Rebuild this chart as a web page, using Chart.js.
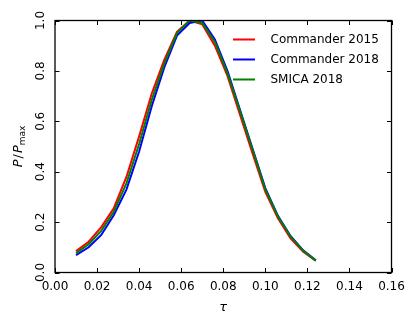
<!DOCTYPE html>
<html>
<head>
<meta charset="utf-8">
<script src="https://cdn.jsdelivr.net/npm/chart.js@4/dist/chart.umd.min.js"></script>
<style>
  html, body { margin: 0; padding: 0; background: #fff; }
  #wrap { width: 415px; height: 326px; }
</style>
</head>
<body>
<div id="wrap"><canvas id="c" width="415" height="326"></canvas></div>
<script>
// tau grid and normalised posteriors
const tau = [0.010, 0.016, 0.022, 0.028, 0.034, 0.040, 0.046, 0.052, 0.058, 0.064,
             0.070, 0.076, 0.082, 0.088, 0.094, 0.100, 0.106, 0.112, 0.118, 0.124];
const commander2015 = [0.085, 0.122, 0.180, 0.256, 0.380, 0.540, 0.710, 0.845, 0.955, 1.000,
                       0.985, 0.900, 0.780, 0.625, 0.470, 0.320, 0.215, 0.135, 0.082, 0.047];
const commander2018 = [0.069, 0.100, 0.149, 0.228, 0.330, 0.480, 0.660, 0.815, 0.940, 0.990,
                       1.000, 0.925, 0.800, 0.645, 0.490, 0.335, 0.225, 0.145, 0.088, 0.048];
const smica2018 = [0.077, 0.112, 0.165, 0.242, 0.355, 0.510, 0.685, 0.830, 0.950, 1.000,
                   0.990, 0.915, 0.790, 0.640, 0.485, 0.330, 0.222, 0.142, 0.086, 0.047];

const seriesNames = ["Commander 2015", "Commander 2018", "SMICA 2018"];
const seriesColors = ["#ff0000", "#0000ff", "#008000"];

const xTicks = [0, 0.02, 0.04, 0.06, 0.08, 0.10, 0.12, 0.14, 0.16];
const xTickLabels = ["0.00", "0.02", "0.04", "0.06", "0.08", "0.10", "0.12", "0.14", "0.16"];
const yTicks = [0, 0.2, 0.4, 0.6, 0.8, 1.0];
const yTickLabels = ["0.0", "0.2", "0.4", "0.6", "0.8", "1.0"];

const FONT = "DejaVu Sans";

function pts(ys) {
  return tau.map((t, i) => ({ x: t, y: ys[i] }));
}

// frame, inward ticks, labels, titles and legend (matplotlib classic look)
const axesDecor = {
  id: "axesDecor",
  afterDraw(chart) {
    const ctx = chart.ctx;
    const a = chart.chartArea;
    const xs = chart.scales.x;
    const ys = chart.scales.y;
    const tl = 4.5;

    ctx.save();
    ctx.strokeStyle = "#000";
    ctx.lineWidth = 1;
    ctx.beginPath();
    xTicks.forEach((v) => {
      const px = Math.round(xs.getPixelForValue(v)) + 0.5;
      ctx.moveTo(px, a.bottom); ctx.lineTo(px, a.bottom - tl);
      ctx.moveTo(px, a.top); ctx.lineTo(px, a.top + tl);
    });
    yTicks.forEach((v) => {
      const py = Math.round(ys.getPixelForValue(v)) + 0.5;
      ctx.moveTo(a.left, py); ctx.lineTo(a.left + tl, py);
      ctx.moveTo(a.right, py); ctx.lineTo(a.right - tl, py);
    });
    ctx.stroke();
    ctx.lineWidth = 1.3;
    ctx.strokeRect(a.left, a.top, a.right - a.left, a.bottom - a.top);

    ctx.fillStyle = "#000";
    ctx.font = "12px '" + FONT + "'";
    ctx.textAlign = "center";
    ctx.textBaseline = "middle";
    xTicks.forEach((v, i) => {
      ctx.fillText(xTickLabels[i], xs.getPixelForValue(v), a.bottom + 14.5);
    });
    yTicks.forEach((v, i) => {
      ctx.save();
      ctx.translate(a.left - 14.5, ys.getPixelForValue(v));
      ctx.rotate(-Math.PI / 2);
      ctx.fillText(yTickLabels[i], 0, 0);
      ctx.restore();
    });

    // x title
    ctx.font = "italic 13px '" + FONT + "'";
    ctx.fillText("\u03c4", (a.left + a.right) / 2, a.bottom + 35.5);

    // y title: P / P_max
    ctx.save();
    ctx.translate(17, (a.top + a.bottom) / 2);
    ctx.rotate(-Math.PI / 2);
    ctx.textAlign = "left";
    ctx.textBaseline = "alphabetic";
    const fI = "italic 13px '" + FONT + "'";
    const fN = "13px '" + FONT + "'";
    const fS = "9px '" + FONT + "'";
    const parts = [[fI, "P", 0], [fN, "/", 0], [fI, "P", 0], [fS, "max", 3]];
    let w = 0;
    parts.forEach((p) => { ctx.font = p[0]; w += ctx.measureText(p[1]).width + (p[1] === "/" ? 2 : 0); });
    let x = -w / 2;
    parts.forEach((p) => {
      ctx.font = p[0];
      const extra = p[1] === "/" ? 1 : 0;
      ctx.fillText(p[1], x + extra, 5 + p[2]);
      x += ctx.measureText(p[1]).width + 2 * extra;
    });
    ctx.restore();

    // legend
    ctx.font = "12px '" + FONT + "'";
    ctx.textAlign = "left";
    ctx.textBaseline = "middle";
    ctx.lineWidth = 2;
    seriesNames.forEach((name, i) => {
      const y = 39.5 + i * 20;
      ctx.strokeStyle = seriesColors[i];
      ctx.beginPath();
      ctx.moveTo(233, y); ctx.lineTo(255, y);
      ctx.stroke();
      ctx.fillStyle = "#000";
      ctx.fillText(name, 270.5, y + 0.5);
    });
    ctx.restore();
  },
};

new Chart(document.getElementById("c"), {
  type: "line",
  data: {
    datasets: [
      { label: seriesNames[0], data: pts(commander2015), borderColor: seriesColors[0], order: 2 },
      { label: seriesNames[1], data: pts(commander2018), borderColor: seriesColors[1], order: 1 },
      { label: seriesNames[2], data: pts(smica2018), borderColor: seriesColors[2], order: 0 },
    ],
  },
  options: {
    responsive: false,
    animation: false,
    layout: { padding: { left: 55, right: 23.5, top: 20.5, bottom: 53.5 } },
    elements: {
      line: { borderWidth: 2, tension: 0, fill: false },
      point: { radius: 0, hoverRadius: 0 },
    },
    scales: {
      x: { type: "linear", min: 0, max: 0.16, display: false },
      y: { type: "linear", min: 0, max: 1.0, display: false },
    },
    plugins: {
      legend: { display: false },
      tooltip: { enabled: false },
    },
  },
  plugins: [axesDecor],
});
</script>
</body>
</html>
